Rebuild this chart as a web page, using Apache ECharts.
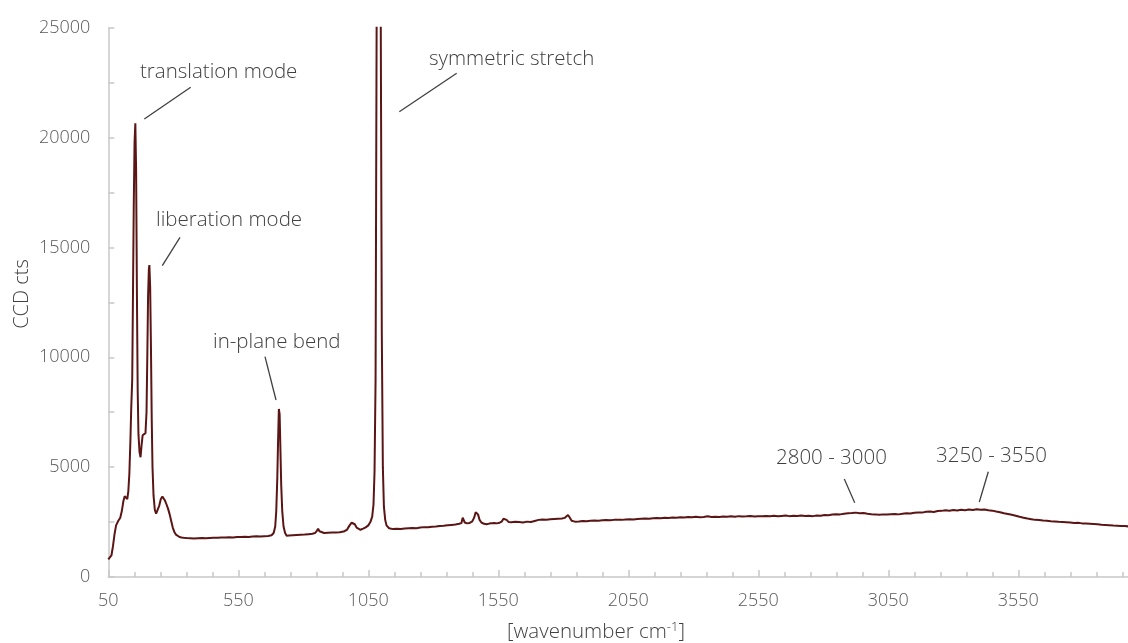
<!DOCTYPE html>
<html>
<head>
<meta charset="utf-8">
<script src="https://cdn.jsdelivr.net/npm/echarts@6/dist/echarts.min.js"></script>
<style>
  html, body { margin: 0; padding: 0; background: #ffffff; }
  #chart { width: 1128px; height: 643px; }
</style>
</head>
<body>
<div id="chart"></div>
<script>
// Raman spectrum: Raman shift (cm-1) and CCD counts
const wavenumbers = [
  50, 56, 62, 68, 74, 80, 88, 96, 102, 108, 113, 118, 123, 127, 131, 135, 138,
  142, 145, 148, 151, 154, 157, 160, 163, 166, 170, 174, 178, 182, 188, 193,
  197, 200, 203, 206, 208, 211, 214, 217, 220, 224, 229, 234, 240, 246, 252,
  258, 263, 268, 274, 280, 286, 292, 298, 304, 310, 317, 324, 332, 340, 350,
  365, 380, 395, 410, 425, 440, 455, 470, 485, 500, 515, 530, 545, 560, 575,
  590, 605, 620, 635, 650, 665, 678, 686, 692, 696, 700, 703, 706, 709, 712,
  715, 719, 724, 730, 736, 745, 760, 775, 790, 805, 820, 835, 845, 852, 857,
  862, 868, 880, 895, 910, 925, 940, 955, 968, 978, 986, 992, 998, 1005, 1012,
  1020, 1030, 1040, 1050, 1058, 1065, 1070, 1074, 1078, 1082, 1086, 1090, 1094,
  1098, 1102, 1106, 1110, 1115, 1120, 1130, 1145, 1160, 1175, 1190, 1205, 1220,
  1235, 1250, 1265, 1280, 1295, 1310, 1325, 1340, 1355, 1370, 1385, 1400, 1408,
  1413, 1417, 1421, 1430, 1440, 1450, 1457, 1463, 1467, 1472, 1478, 1485, 1495,
  1505, 1515, 1525, 1535, 1545, 1555, 1563, 1570, 1576, 1582, 1590, 1600, 1615,
  1630, 1645, 1660, 1675, 1690, 1705, 1720, 1735, 1750, 1765, 1780, 1795, 1805,
  1812, 1818, 1824, 1832, 1845, 1860, 1875, 1890, 1905, 1920, 1935, 1950, 1965,
  1980, 1995, 2010, 2025, 2040, 2055, 2070, 2085, 2100, 2115, 2130, 2145, 2160,
  2175, 2190, 2205, 2220, 2235, 2250, 2265, 2280, 2295, 2310, 2325, 2340, 2355,
  2370, 2385, 2400, 2415, 2430, 2445, 2460, 2475, 2490, 2505, 2520, 2535, 2550,
  2565, 2580, 2595, 2610, 2625, 2640, 2655, 2670, 2685, 2700, 2715, 2730, 2745,
  2760, 2775, 2790, 2805, 2820, 2835, 2850, 2865, 2880, 2895, 2910, 2925, 2940,
  2955, 2970, 2985, 3000, 3015, 3030, 3045, 3060, 3075, 3090, 3105, 3120, 3135,
  3150, 3165, 3180, 3195, 3210, 3225, 3240, 3255, 3270, 3285, 3300, 3315, 3330,
  3345, 3360, 3375, 3390, 3405, 3420, 3435, 3450, 3465, 3480, 3495, 3510, 3525,
  3540, 3555, 3570, 3585, 3600, 3615, 3630, 3645, 3660, 3675, 3690, 3705, 3720,
  3735, 3750, 3765, 3780, 3795, 3810, 3825, 3840, 3855, 3870, 3885, 3900, 3915,
  3930, 3945, 3960, 3975, 3990
];

const counts = [
  800, 830, 980, 1400, 1950, 2350, 2550, 2700, 3000, 3450, 3680, 3650, 3550, 3900, 4700, 6200, 7600,
  9000, 13000, 17000, 19800, 20650, 18500, 13000, 8500, 6500, 5700, 5450, 6000, 6450, 6450, 6550,
  7500, 10000, 12800, 14000, 14200, 13200, 10500, 7200, 5000, 3700, 3050, 2880, 2950, 3250, 3550,
  3660, 3620, 3480, 3300, 3100, 2850, 2550, 2250, 2050, 1930, 1860, 1820, 1800, 1785, 1770,
  1765, 1750, 1760, 1770, 1760, 1780, 1790, 1785, 1800, 1795, 1810, 1800, 1820, 1815, 1830,
  1825, 1840, 1850, 1845, 1860, 1870, 1900, 2000, 2300, 3000, 4500, 6200, 7650, 7400, 5800,
  4200, 3000, 2300, 2000, 1880, 1890, 1900, 1910, 1920, 1930, 1950, 1970, 2000, 2100, 2200,
  2080, 1990, 2000, 2010, 2020, 2030, 2040, 2070, 2150, 2350, 2470, 2480, 2400, 2250, 2160,
  2150, 2200, 2260, 2350, 2500, 2750, 3300, 4800, 9000, 25000, 48000, 58000, 45000,
  25000, 11000, 5000, 3200, 2600, 2350, 2220, 2180, 2200, 2190, 2210, 2220, 2230,
  2220, 2250, 2270, 2260, 2290, 2300, 2320, 2330, 2350, 2370, 2390, 2420, 2450,
  2700, 2720, 2480, 2440, 2460, 2530, 2700, 2950, 3020, 2850, 2600, 2480, 2420,
  2400, 2430, 2450, 2460, 2440, 2470, 2520, 2650, 2720, 2600, 2500, 2490, 2510,
  2500, 2480, 2520, 2500, 2550, 2600, 2620, 2610, 2630, 2640, 2650, 2660, 2690,
  2760, 2820, 2720, 2560, 2520, 2530, 2550, 2540, 2560, 2570, 2560, 2580, 2590,
  2580, 2600, 2610, 2600, 2620, 2630, 2620, 2640, 2650, 2660, 2650, 2670, 2680,
  2670, 2700, 2690, 2710, 2700, 2720, 2710, 2730, 2720, 2740, 2720, 2730, 2760,
  2730, 2740, 2730, 2750, 2740, 2760, 2740, 2770, 2750, 2760, 2780, 2750, 2770,
  2760, 2780, 2770, 2790, 2760, 2780, 2800, 2770, 2790, 2780, 2800, 2780, 2790,
  2770, 2800, 2790, 2820, 2810, 2840, 2860, 2850, 2880, 2900, 2910, 2930, 2900,
  2910, 2880, 2860, 2850, 2830, 2850, 2840, 2860, 2870, 2850, 2880, 2900, 2890,
  2920, 2940, 2930, 2970, 2980, 2960, 3000, 3010, 3040, 3020, 3050, 3030, 3060,
  3040, 3070, 3050, 3080, 3060, 3070, 3040, 3020, 2980, 2950, 2900, 2870, 2830,
  2790, 2740, 2700, 2660, 2630, 2600, 2590, 2570, 2560, 2540, 2530, 2510, 2500,
  2490, 2480, 2460, 2470, 2440, 2430, 2420, 2410, 2400, 2380, 2370, 2360, 2340,
  2330, 2320, 2320, 2300, 2290
];

// Axis ranges and tick labels
const xRange = [50, 4050];
const xTickStep = 500;
const yRange = [0, 25000];
const yTickStep = 5000;

// Peak annotations: label text
const peakLabels = [
  'translation mode',
  'liberation mode',
  'in-plane bend',
  'symmetric stretch',
  '2800 - 3000',
  '3250 - 3550'
];

const spectrum = wavenumbers.map((w, i) => [w, counts[i]]);

const textColor = '#404040';
const tickColor = '#595959';
const fontFamily = '"Open Sans", "Noto Sans", sans-serif';

// label placement [x, y] in px and leader line [x1, y1, x2, y2]
const annotLayout = [
  { pos: [140, 72],  line: [144.3, 119, 190.7, 87.3] },
  { pos: [156, 220], line: [162.3, 265.7, 180, 237.3] },
  { pos: [213, 342], line: [276, 400, 265, 356.7] },
  { pos: [429, 59],  line: [399.3, 111.7, 456.7, 73.3] },
  { pos: [776, 458], line: [854.7, 502.7, 844.3, 479] },
  { pos: [936, 456], line: [979.3, 502, 988.3, 471.7] }
];

const graphics = [];
peakLabels.forEach((label, i) => {
  const a = annotLayout[i];
  graphics.push({
    type: 'text', x: a.pos[0], y: a.pos[1], silent: true,
    style: { text: label, fill: textColor, font: '300 20.5px ' + fontFamily, textVerticalAlign: 'middle' }
  });
  graphics.push({
    type: 'line', silent: true,
    shape: { x1: a.line[0], y1: a.line[1], x2: a.line[2], y2: a.line[3] },
    style: { stroke: '#404040', lineWidth: 1.3 }
  });
});

// axis titles
graphics.push({
  type: 'text', x: 596, y: 632, silent: true,
  style: {
    text: '[wavenumber cm{sup|-1}]',
    fill: textColor, font: '300 20.5px ' + fontFamily,
    textAlign: 'center', textVerticalAlign: 'middle',
    rich: { sup: { fontSize: 13, fontFamily: fontFamily, fontWeight: 300, fill: textColor, padding: [0, 0, 10, 0] } }
  }
});
graphics.push({
  type: 'text', x: 22, y: 294, rotation: Math.PI / 2, silent: true,
  style: {
    text: 'CCD cts', fill: textColor, font: '300 20px ' + fontFamily,
    textAlign: 'center', textVerticalAlign: 'middle'
  }
});

const chart = echarts.init(document.getElementById('chart'), null, { renderer: 'canvas' });
chart.setOption({
  animation: false,
  backgroundColor: '#ffffff',
  grid: {
    left: 108.3, top: 27.7, width: 1040, height: 549.3,
    containLabel: false, outerBoundsMode: 'none'
  },
  xAxis: {
    type: 'value',
    min: xRange[0], max: xRange[1], interval: xTickStep,
    axisLine: { show: true, lineStyle: { color: '#c8c8c8', width: 1.5 } },
    axisTick: { show: true, inside: true, length: 7, lineStyle: { color: '#c8c8c8', width: 1.5 } },
    minorTick: { show: true, splitNumber: 5, length: 5, lineStyle: { color: '#c8c8c8', width: 1.5 } },
    splitLine: { show: false },
    axisLabel: {
      color: tickColor, fontSize: 18, fontFamily: fontFamily, fontWeight: 300, margin: 15,
      showMaxLabel: false, formatter: (v) => String(v)
    }
  },
  yAxis: {
    type: 'value',
    min: yRange[0], max: yRange[1], interval: yTickStep,
    axisLine: { show: true, lineStyle: { color: '#c8c8c8', width: 1.5 } },
    axisTick: { show: true, inside: true, length: 6, lineStyle: { color: '#c8c8c8', width: 1.5 } },
    minorTick: { show: true, splitNumber: 2, length: 6, lineStyle: { color: '#c8c8c8', width: 1.5 } },
    splitLine: { show: false },
    axisLabel: {
      color: tickColor, fontSize: 18, fontFamily: fontFamily, fontWeight: 300, margin: 18,
      formatter: (v) => String(v)
    }
  },
  series: [{
    type: 'line',
    data: spectrum,
    showSymbol: false,
    clip: true,
    smooth: false,
    lineStyle: { color: '#5b1515', width: 2 }
  }],
  graphic: graphics
});
</script>
</body>
</html>
